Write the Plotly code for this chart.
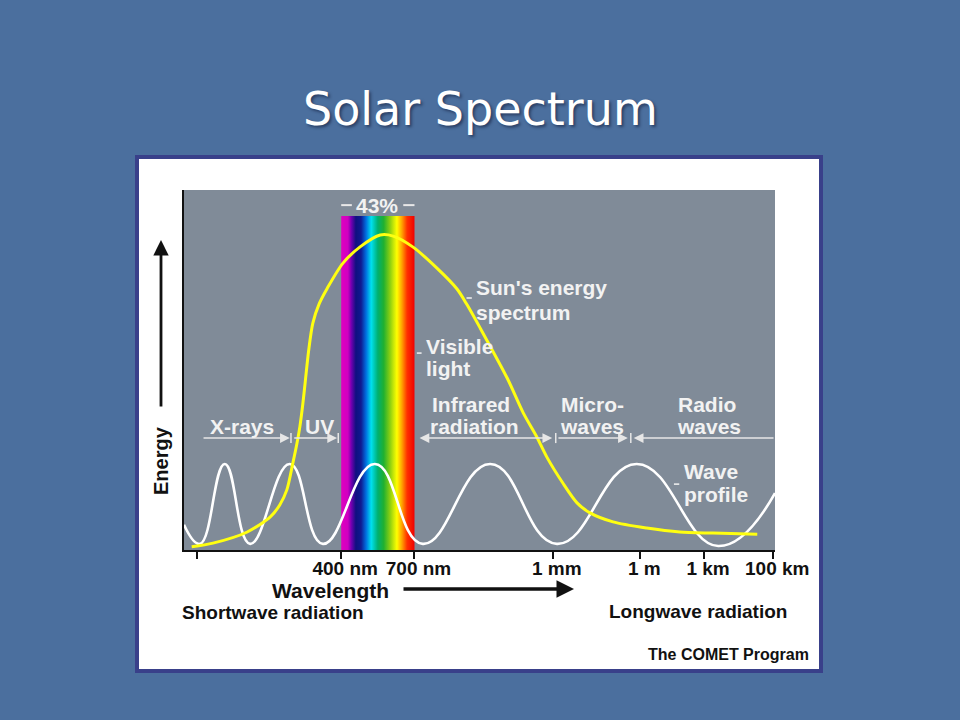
import plotly.graph_objects as go

# ---------------- data (schematic axis units: x 0-100 across the panel, y 0-100 energy) -------------
tick_pos = [2.15, 26.6, 39.0, 62.4, 77.2, 88.0, 99.7]
tick_text = ["", "400 nm", "700 nm", "1 mm", "1 m", "1 km", "100 km"]

sun_x = [1.3, 4.9, 10.7, 14.6, 16.2, 17.4, 18.4, 19.1, 19.6, 20.1, 20.5, 21.1, 21.8, 22.9, 24.2,
         26.9, 29.8, 33.2, 35.4, 38.7, 42.8, 46.2, 47.9, 50.1, 54.7, 57.4, 59.7, 61.4, 64.1,
         66.5, 68.7, 72.6, 78.3, 83.9, 89.5, 97.0]
sun_y = [0.9, 1.9, 5.0, 9.2, 12.5, 16.7, 24.0, 29.5, 34.2, 40.5, 46.5, 55.5, 63.0, 68.5, 72.6,
         79.7, 84.2, 87.5, 87.2, 84.2, 78.3, 72.5, 68.1, 61.7, 47.7, 38.1, 31.4, 25.8, 18.6,
         13.1, 10.3, 7.8, 6.1, 5.0, 4.7, 4.4]

wave_x = [0, 2.7, 6.9, 11.2, 17.9, 23.5, 32.3, 40.4, 51.8, 63.1, 76.6, 90.4, 100]
wave_y = [7.0, 1.7, 23.9, 1.7, 23.9, 1.7, 23.9, 1.7, 23.9, 1.7, 23.9, 1.1, 15.8]

visible_x = [26.6, 39.0]
visible_top = 92.8
visible_share = "43%"

band_names = ["X-rays", "UV", "Infrared radiation", "Micro-waves", "Radio waves"]
band_start = [3.05, 18.4, 39.6, 63.1, 76.1]
band_end = [17.9, 25.9, 62.3, 75.1, 100.0]
band_heads = ["end", "end", "end+start", "end", "start"]
band_dividers = [18.1, 26.1, 62.9, 75.6]
band_level = 31.1

# ---------------- styling -------------
BG = "#4b6f9e"
PANEL = "#808b98"
LBL = "#f2f2f2"
W, H = 960, 720

def px(x):
    return x / W

def py(y):
    return 1 - y / H

rainbow = [[0.0, "#e000c0"], [0.09, "#d000c0"], [0.14, "#7000b0"], [0.2, "#101080"],
           [0.27, "#101a90"], [0.34, "#0070e0"], [0.41, "#00e0f0"], [0.5, "#00b070"],
           [0.58, "#20b030"], [0.67, "#90d010"], [0.76, "#ffff00"], [0.83, "#ffa000"],
           [0.9, "#ff3000"], [1.0, "#f00000"]]

fig = go.Figure()

# visible light band
fig.add_trace(go.Scatter(
    x=[visible_x[0], visible_x[1], visible_x[1], visible_x[0], visible_x[0]],
    y=[0, 0, visible_top, visible_top, 0],
    mode="lines", line=dict(width=0), fill="toself",
    fillgradient=dict(type="horizontal", colorscale=rainbow),
    hoverinfo="skip", showlegend=False))

# wave profile
fig.add_trace(go.Scatter(x=wave_x, y=wave_y, mode="lines",
                         line=dict(color="white", width=2.6, shape="spline", smoothing=1.3),
                         showlegend=False, hoverinfo="skip"))

# sun's energy spectrum
fig.add_trace(go.Scatter(x=sun_x, y=sun_y, mode="lines",
                         line=dict(color="#ffff10", width=3, shape="spline", smoothing=0.8),
                         showlegend=False, hoverinfo="skip"))

shapes = [
    # white frame
    dict(type="rect", xref="paper", yref="paper", x0=px(137), x1=px(821), y0=py(671), y1=py(157),
         fillcolor="white", line=dict(color="#39408a", width=4), layer="below"),
    # grey panel
    dict(type="rect", xref="x domain", yref="y domain", x0=0, x1=1, y0=0, y1=1,
         fillcolor=PANEL, line=dict(width=0), layer="below"),
]
for d in band_dividers:
    shapes.append(dict(type="line", x0=d, x1=d, y0=band_level - 1.4, y1=band_level + 1.4,
                       line=dict(color="#e6e6e6", width=1.5)))
# small leader dashes next to labels
for (x0, x1, yy) in [(47.8, 48.7, 70.0), (39.4, 40.2, 54.7), (82.9, 83.8, 18.3)]:
    shapes.append(dict(type="line", x0=x0, x1=x1, y0=yy, y1=yy, line=dict(color=LBL, width=1.5)))
# dashes around 43%
for (x0, x1) in [(26.6, 28.4), (37.1, 39.0)]:
    shapes.append(dict(type="line", x0=x0, x1=x1, y0=95.8, y1=95.8, line=dict(color="#e8e8e8", width=2)))

annotations = []
# band arrows
for s, e, h in zip(band_start, band_end, band_heads):
    if h == "start":
        hx, tx = s, e
        side = "end"
    else:
        hx, tx = e, s
        side = h
    annotations.append(dict(x=hx, y=band_level, ax=tx, ay=band_level, axref="x", ayref="y",
                            xref="x", yref="y", text="", showarrow=True, arrowhead=2,
                            startarrowhead=2, arrowside=side, arrowsize=1.3, startarrowsize=1.3,
                            arrowwidth=1.5, arrowcolor="#e6e6e6", standoff=0, startstandoff=0))

white_labels = [
    ("Sun's energy", 49.1, 72.9, "left"), ("spectrum", 49.1, 66.1, "left"),
    ("Visible", 40.6, 56.6, "left"), ("light", 40.6, 50.4, "left"),
    ("Infrared", 48.6, 40.5, "center"), ("radiation", 49.2, 34.4, "center"),
    ("Micro-", 69.2, 40.5, "center"), ("waves", 69.0, 34.4, "center"),
    ("Radio", 88.5, 40.5, "center"), ("waves", 88.8, 34.4, "center"),
    ("X-rays", 9.8, 34.4, "center"), ("UV", 23.0, 34.4, "center"),
    ("Wave", 84.3, 21.9, "left"), ("profile", 84.3, 15.4, "left"),
    (visible_share, 32.6, 95.8, "center"),
]
for t, x, y, anc in white_labels:
    annotations.append(dict(x=x, y=y, xref="x", yref="y", text="<b>%s</b>" % t, showarrow=False,
                            xanchor=anc, yanchor="middle",
                            font=dict(family="Liberation Sans, Arial", size=21, color=LBL)))

blk = dict(family="Liberation Sans, Arial", color="#111111")
annotations += [
    # title
    dict(x=0.5, y=py(109), xref="paper", yref="paper", text="Solar Spectrum", showarrow=False,
         font=dict(family="DejaVu Sans", size=46, color="white", shadow="2px 2px 3px rgba(20,30,60,0.6)"),
         xanchor="center", yanchor="middle"),
    # energy arrow and label
    dict(x=px(161), y=py(240), xref="paper", yref="paper", ax=0, ay=168, text="", showarrow=True,
         arrowhead=2, arrowsize=1.1, arrowwidth=2.8, arrowcolor="#111111", standoff=0),
    dict(x=px(161), y=py(461), xref="paper", yref="paper", text="<b>Energy</b>", textangle=-90,
         showarrow=False, font=dict(size=20, **blk), xanchor="center", yanchor="middle"),
    # wavelength
    dict(x=px(330), y=py(590), xref="paper", yref="paper", text="<b>Wavelength</b>", showarrow=False,
         font=dict(size=21, **blk), xanchor="center", yanchor="middle"),
    dict(x=px(574), y=py(589), xref="paper", yref="paper", ax=-172, ay=0, text="", showarrow=True,
         arrowhead=2, arrowsize=1.0, arrowwidth=3.5, arrowcolor="#111111", standoff=0),
    dict(x=px(273), y=py(612), xref="paper", yref="paper", text="<b>Shortwave radiation</b>",
         showarrow=False, font=dict(size=19, **blk), xanchor="center", yanchor="middle"),
    dict(x=px(698), y=py(611), xref="paper", yref="paper", text="<b>Longwave radiation</b>",
         showarrow=False, font=dict(size=19, **blk), xanchor="center", yanchor="middle"),
    dict(x=px(728), y=py(654), xref="paper", yref="paper", text="<b>The COMET Program</b>",
         showarrow=False, font=dict(size=16, **blk), xanchor="center", yanchor="middle"),
]

fig.update_layout(
    width=W, height=H, autosize=False, margin=dict(l=0, r=0, t=0, b=0, pad=0, autoexpand=False),
    paper_bgcolor=BG, plot_bgcolor=PANEL,
    shapes=shapes, annotations=annotations, showlegend=False,
    xaxis=dict(domain=[px(184), px(775)], range=[0, 100], showgrid=False, zeroline=False,
               showline=True, linecolor="#111111", linewidth=2,
               ticks="outside", ticklen=7, tickwidth=2, tickcolor="#111111",
               tickvals=tick_pos, ticktext=["<b>%s</b>" % t if t else "" for t in tick_text],
               tickfont=dict(family="Liberation Sans, Arial", size=19, color="#111111"),
               ticklabelstandoff=-7, ticklabelshift=4,
               fixedrange=True),
    yaxis=dict(domain=[py(550), py(190)], range=[0, 100], showgrid=False, zeroline=False,
               showline=True, linecolor="#111111", linewidth=2, showticklabels=False, ticks="",
               fixedrange=True),
)

fig.write_html("out.html", config={"displayModeBar": False, "responsive": False},
               post_script="document.body.style.margin='0';document.body.style.overflow='hidden';")
